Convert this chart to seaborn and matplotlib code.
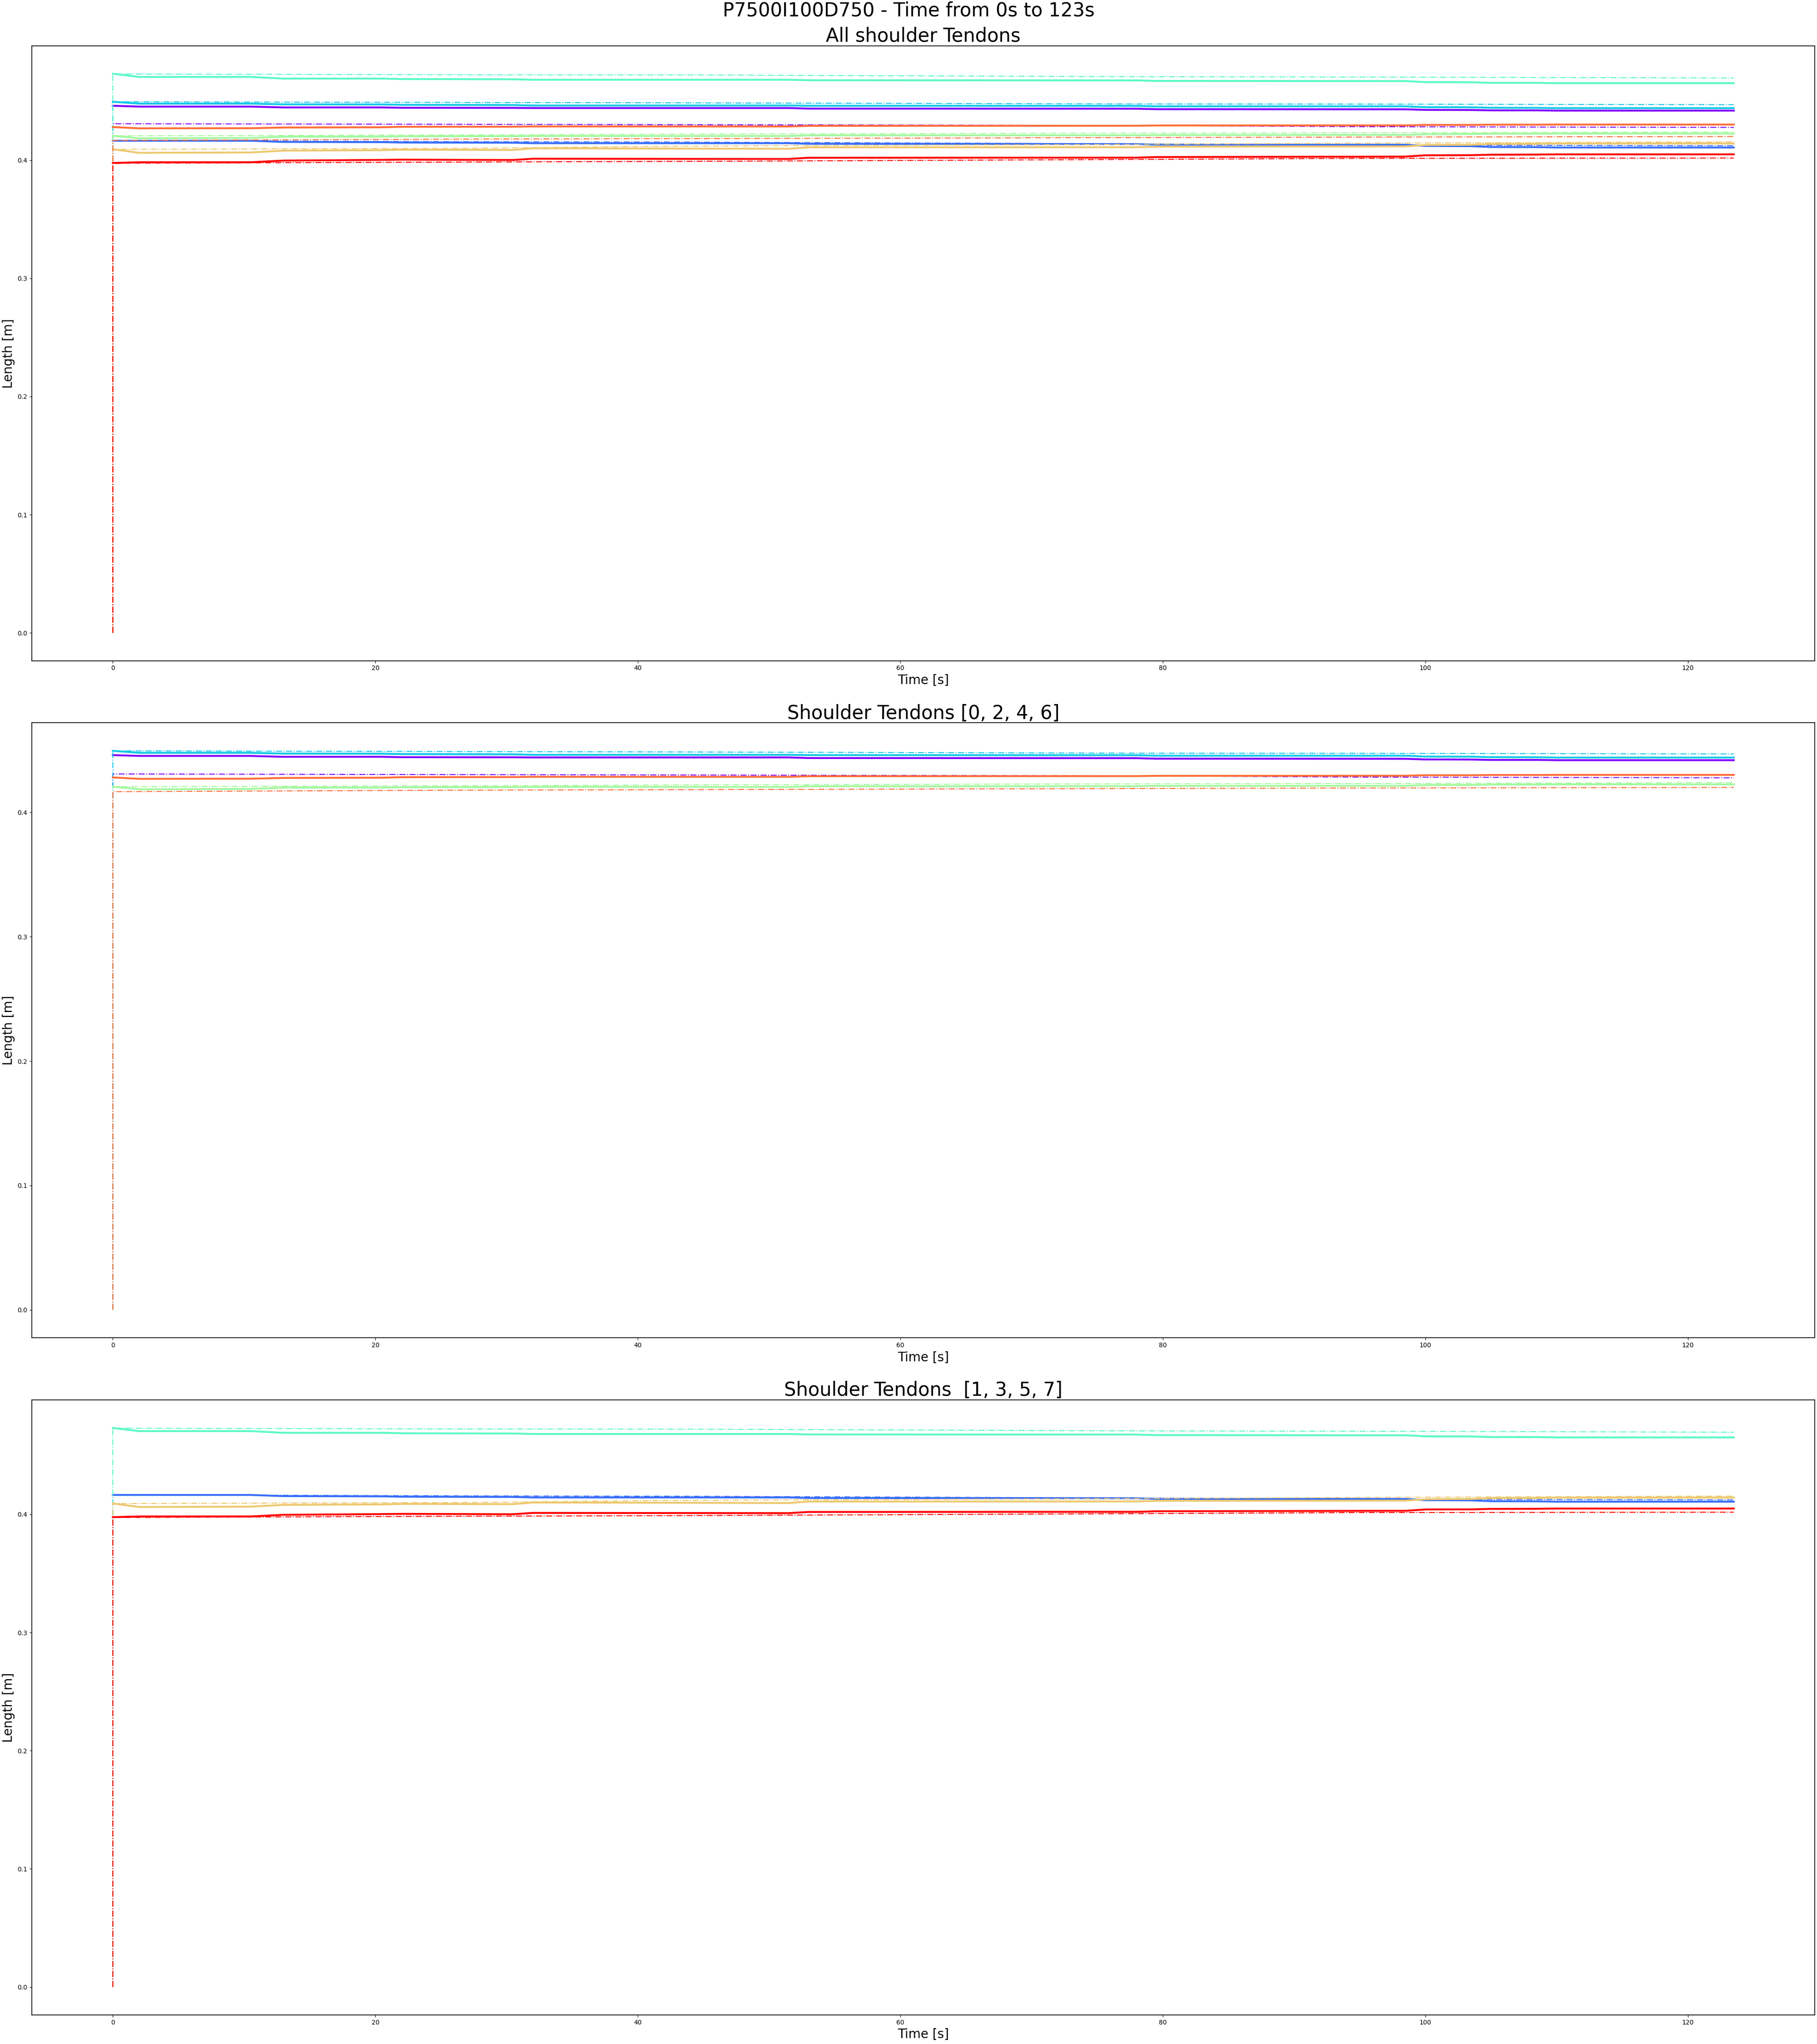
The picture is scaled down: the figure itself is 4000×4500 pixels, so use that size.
import numpy as np
import pandas as pd
import matplotlib
matplotlib.use('Agg')
import matplotlib.pyplot as plt
import seaborn as sns

# time grid of the measured tendon lengths [s]
t_meas = [0, 2, 10.5, 13, 20.5, 22, 30.5, 32, 51.5, 53, 78, 79.5, 98.5, 100, 103.5, 105, 108.5, 110, 123.5]
# time grid of the desired (reference) lengths [s] - jumps from 0 at t=0
t_des = [0, 0, 27, 43, 78, 95, 123.5]

# measured lengths [m], tendon 0..7
meas_0 = [.4460, .4453, .4453, .4446, .4446, .4443, .4442, .4441, .4441, .4436, .4435, .4431, .4430, .4425, .4424, .4421, .4421, .4419, .4419]
meas_1 = [.4164, .4164, .4164, .4154, .4152, .4149, .4147, .4143, .4143, .4138, .4136, .4131, .4130, .4120, .4118, .4111, .4110, .4107, .4107]
meas_2 = [.4494, .4478, .4478, .4472, .4471, .4468, .4466, .4462, .4462, .4460, .4459, .4455, .4455, .4448, .4447, .4443, .4442, .4440, .4440]
meas_3 = [.4731, .4704, .4704, .4690, .4690, .4686, .4684, .4680, .4680, .4676, .4675, .4670, .4669, .4660, .4659, .4654, .4654, .4651, .4651]
meas_4 = [.4206, .4185, .4188, .4198, .4199, .4201, .4202, .4204, .4204, .4209, .4210, .4212, .4213, .4219, .4220, .4223, .4223, .4224, .4224]
meas_5 = [.4092, .4062, .4065, .4080, .4084, .4088, .4086, .4100, .4096, .4108, .4109, .4114, .4116, .4128, .4130, .4137, .4138, .4141, .4141]
meas_6 = [.4280, .4269, .4270, .4276, .4278, .4282, .4283, .4285, .4285, .4290, .4291, .4293, .4294, .4298, .4298, .4300, .4300, .4301, .4301]
meas_7 = [.3976, .3982, .3982, .3996, .4002, .4004, .4001, .4012, .4010, .4020, .4021, .4026, .4030, .4041, .4042, .4046, .4047, .4049, .4049]

# desired lengths [m], tendon 0..7
des_0 = [0, .4308, .4303, .4300, .4293, .4283, .4277]
des_1 = [0, .4166, .4156, .4153, .4138, .4128, .4122]
des_2 = [0, .4494, .4488, .4485, .4475, .4474, .4469]
des_3 = [0, .4729, .4722, .4721, .4706, .4703, .4695]
des_4 = [0, .4206, .4213, .4220, .4229, .4231, .4238]
des_5 = [0, .4091, .4100, .4118, .4134, .4143, .4154]
des_6 = [0, .4166, .4178, .4182, .4191, .4195, .4200]
des_7 = [0, .3973, .3984, .3989, .4006, .4015, .4018]

meas = [meas_0, meas_1, meas_2, meas_3, meas_4, meas_5, meas_6, meas_7]
des = [des_0, des_1, des_2, des_3, des_4, des_5, des_6, des_7]

colors = plt.cm.rainbow(np.linspace(0, 1, 8))

panels = [("All shoulder Tendons", [0, 1, 2, 3, 4, 5, 6, 7]),
          ("Shoulder Tendons [0, 2, 4, 6]", [0, 2, 4, 6]),
          ("Shoulder Tendons  [1, 3, 5, 7]", [1, 3, 5, 7])]

fig, axes = plt.subplots(3, 1, figsize=(40, 45), dpi=100)
fig.subplots_adjust(left=0.0175, right=0.9988, top=0.9776, bottom=0.0142, hspace=0.101)

for ax, (title, idx) in zip(axes, panels):
    for i in idx:
        sns.lineplot(x=t_meas, y=meas[i], ax=ax, color=colors[i], linewidth=3,
                     sort=False, estimator=None)
        sns.lineplot(x=t_des, y=des[i], ax=ax, color=colors[i], linewidth=1.5, linestyle='-.',
                     sort=False, estimator=None)
    ax.set_title(title, fontsize=30)
    ax.set_xlabel('Time [s]', fontsize=20)
    ax.set_ylabel('Length [m]', fontsize=20)
    for s in ax.spines.values():
        s.set_linewidth(1.2)

fig.suptitle('P7500I100D750 - Time from 0s to 123s', fontsize=30, y=0.9995, va='top')
fig.savefig('out.png', dpi=100)
